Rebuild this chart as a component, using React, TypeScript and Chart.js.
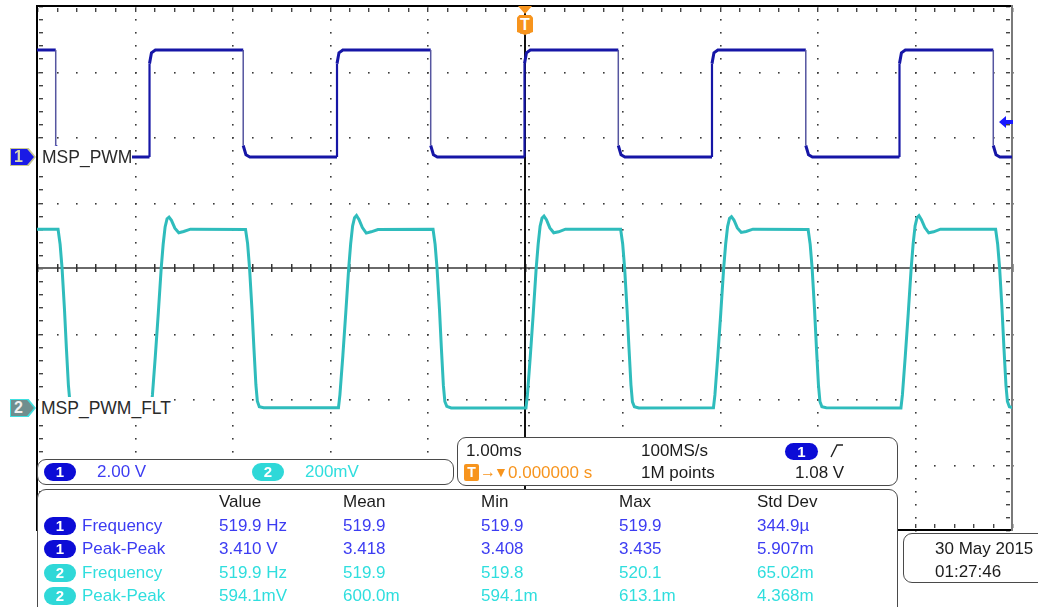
import React, { useEffect, useRef } from 'react';
import { Chart, registerables } from 'chart.js';
Chart.register(...registerables);

// ---- time base: 1.00 ms/div, 10 divisions, trigger at 0 ----
const timeRange = [-5, 5]; // ms
// ---- vertical: 8 divisions; ch1 2.00 V/div, ch2 200 mV/div ----
const ch1Range = [-11.39, 4.61]; // V
const ch2Range = [-0.3725, 1.2275]; // V
const gratRange = [-4, 4]; // divisions

// Channel 1 (MSP_PWM) trace, time in ms, volts
const ch1Time = [
  -5,
  -4.808, -4.808, -4.78, -4.74,
  -3.846, -3.846, -3.826, -3.786,
  -2.885, -2.885, -2.857, -2.817,
  -1.923, -1.923, -1.903, -1.863,
  -0.962, -0.962, -0.934, -0.894,
  0, 0, 0.02, 0.06,
  0.962, 0.962, 0.99, 1.03,
  1.923, 1.923, 1.943, 1.983,
  2.885, 2.885, 2.913, 2.953,
  3.846, 3.846, 3.866, 3.906,
  4.808, 4.808, 4.836, 4.876,
  5,
];
const ch1Volt = [
  3.267,
  3.267, 0.35, 0.07, 0,
  0, 2.85, 3.18, 3.267,
  3.267, 0.35, 0.07, 0,
  0, 2.85, 3.18, 3.267,
  3.267, 0.35, 0.07, 0,
  0, 2.85, 3.18, 3.267,
  3.267, 0.35, 0.07, 0,
  0, 2.85, 3.18, 3.267,
  3.267, 0.35, 0.07, 0,
  0, 2.85, 3.18, 3.267,
  3.267, 0.35, 0.07, 0,
  0,
];

// Channel 2 (MSP_PWM_FLT) trace, time in ms, volts
const ch2Time = [
  -5,
  -4.784, -4.763, -4.743, -4.718, -4.698, -4.678, -4.663, -4.643, -4.598,
  -3.831, -3.816, -3.786, -3.756, -3.726, -3.706, -3.686, -3.666, -3.646, -3.621, -3.586, -3.546, -3.496, -3.426,
  -2.861, -2.840, -2.820, -2.795, -2.775, -2.755, -2.740, -2.720, -2.675,
  -1.908, -1.893, -1.863, -1.833, -1.803, -1.783, -1.763, -1.743, -1.723, -1.698, -1.663, -1.623, -1.573, -1.503,
  -0.938, -0.917, -0.897, -0.872, -0.852, -0.832, -0.817, -0.797, -0.752,
  0.015, 0.030, 0.060, 0.090, 0.120, 0.140, 0.160, 0.180, 0.200, 0.225, 0.260, 0.300, 0.350, 0.420,
  0.986, 1.007, 1.027, 1.052, 1.072, 1.092, 1.107, 1.127, 1.172,
  1.938, 1.953, 1.983, 2.013, 2.043, 2.063, 2.083, 2.103, 2.123, 2.148, 2.183, 2.223, 2.273, 2.343,
  2.909, 2.930, 2.950, 2.975, 2.995, 3.015, 3.030, 3.050, 3.095,
  3.861, 3.876, 3.906, 3.936, 3.966, 3.986, 4.006, 4.026, 4.046, 4.071, 4.106, 4.146, 4.196, 4.266,
  4.832, 4.853, 4.873, 4.898, 4.918, 4.938, 4.953, 4.973, 5.018,
];
const ch2Volt = [
  0.546,
  0.546, 0.500, 0.427, 0.300, 0.180, 0.070, 0.020, 0.004, 0.000,
  0.000, 0.040, 0.160, 0.290, 0.427, 0.500, 0.553, 0.578, 0.583, 0.573, 0.549, 0.535, 0.539, 0.546,
  0.545, 0.502, 0.427, 0.300, 0.182, 0.071, 0.021, 0.004, 0.001,
  0.001, 0.041, 0.160, 0.291, 0.427, 0.501, 0.556, 0.581, 0.588, 0.576, 0.551, 0.534, 0.538, 0.545,
  0.546, 0.500, 0.426, 0.301, 0.180, 0.069, 0.020, 0.005, 0.000,
  0.000, 0.040, 0.160, 0.290, 0.427, 0.500, 0.555, 0.580, 0.586, 0.575, 0.550, 0.535, 0.538, 0.546,
  0.546, 0.501, 0.427, 0.300, 0.181, 0.070, 0.019, 0.004, 0.000,
  0.001, 0.040, 0.159, 0.290, 0.428, 0.500, 0.554, 0.579, 0.584, 0.574, 0.550, 0.536, 0.539, 0.546,
  0.545, 0.500, 0.427, 0.299, 0.180, 0.070, 0.020, 0.004, 0.001,
  0.000, 0.040, 0.161, 0.290, 0.427, 0.501, 0.556, 0.581, 0.587, 0.575, 0.551, 0.535, 0.538, 0.546,
  0.546, 0.500, 0.427, 0.300, 0.180, 0.070, 0.020, 0.004, 0.000,
];

// ---- readouts ----
const ch1Scale = '2.00 V';
const ch2Scale = '200mV';
const timeDiv = '1.00ms';
const sampleRate = '100MS/s';
const triggerDelay = '0.000000 s';
const memDepth = '1M points';
const trigLevel = '1.08 V';
const measureHeaders = ['Value', 'Mean', 'Min', 'Max', 'Std Dev'];
const measureNames = ['Frequency', 'Peak-Peak', 'Frequency', 'Peak-Peak'];
const measureChannels = [1, 1, 2, 2];
const measureValues = [
  ['519.9 Hz', '519.9', '519.9', '519.9', '344.9\u00b5'],
  ['3.410 V', '3.418', '3.408', '3.435', '5.907m'],
  ['519.9 Hz', '519.9', '519.8', '520.1', '65.02m'],
  ['594.1mV', '600.0m', '594.1m', '613.1m', '4.368m'],
];
const dateText = '30 May 2015';
const timeText = '01:27:46';
const ch1Label = 'MSP_PWM';
const ch2Label = 'MSP_PWM_FLT';

const FONT = "'Liberation Sans', Arial, sans-serif";
const BLUE_TXT = '#3c3cf2';
const BLUE_PILL = '#0c0cd6';
const CYAN_TXT = '#2fdede';
const CYAN_PILL = '#2fd8d8';
const ORANGE = '#f7941d';

const graticule = {
  id: 'graticule',
  beforeDatasetsDraw(chart: any) {
    const { ctx, chartArea: a, scales } = chart;
    const xs = scales.x;
    const ys = scales.yg;
    const xMinor: number[] = [];
    for (let i = -25; i <= 25; i++) xMinor.push(i / 5);
    const yMinor: number[] = [];
    for (let i = -20; i <= 20; i++) yMinor.push(i / 5);
    const px = (v: number) => Math.round(xs.getPixelForValue(v));
    const py = (v: number) => Math.round(ys.getPixelForValue(v));
    ctx.save();
    ctx.fillStyle = '#3a3a3a';
    // dotted major lines
    for (let k = -4; k <= 4; k++) {
      const x = px(k);
      if (k === 0) continue;
      for (const yv of yMinor) ctx.fillRect(x, py(yv), 1.6, 1.6);
    }
    for (let j = -3; j <= 3; j++) {
      if (j === 0) continue;
      const y = py(j);
      for (const xv of xMinor) ctx.fillRect(px(xv), y, 1.6, 1.6);
    }
    // border ticks
    ctx.fillStyle = '#444';
    for (const yv of yMinor) {
      const y = py(yv);
      ctx.fillRect(a.left + 2, y, 4, 1.4);
      ctx.fillRect(a.right - 6, y, 4, 1.4);
    }
    for (const xv of xMinor) {
      const x = px(xv);
      ctx.fillRect(x, a.top + 2, 1.4, 4);
      ctx.fillRect(x, a.bottom - 6, 1.4, 4);
    }
    // center horizontal axis
    const cy = py(0);
    ctx.fillStyle = '#6a6a6a';
    ctx.fillRect(a.left, cy - 1, a.right - a.left, 2);
    ctx.fillStyle = '#333';
    for (const xv of xMinor) ctx.fillRect(px(xv), cy - 4, 1.5, 8);
    // center vertical axis
    const cx = px(0);
    ctx.fillStyle = '#111';
    ctx.fillRect(cx - 1, a.top, 2, a.bottom - a.top);
    ctx.fillStyle = '#444';
    for (const yv of yMinor) {
      ctx.fillRect(cx - 5, py(yv), 2, 1.4);
      ctx.fillRect(cx + 3, py(yv), 2, 1.4);
    }
    // frame
    ctx.fillStyle = '#000';
    ctx.fillRect(a.left - 1, a.top - 1, 2, a.bottom - a.top + 2);
    ctx.fillRect(a.left - 1, a.top - 1, a.right - a.left + 2, 2);
    ctx.fillRect(a.left - 1, a.bottom - 1, a.right - a.left + 2, 2);
    ctx.fillStyle = '#7a7a7a';
    ctx.fillRect(a.right - 1, a.top - 1, 2, a.bottom - a.top + 2);
    ctx.restore();
  },
};

function Txt({ x, y, c = '#1c1c1c', s = 17, children, style }: any) {
  return (
    <div
      style={{
        position: 'absolute',
        left: x,
        top: y - 11,
        height: 22,
        lineHeight: '22px',
        fontSize: s,
        color: c,
        whiteSpace: 'nowrap',
        ...style,
      }}
    >
      {children}
    </div>
  );
}

function Pill({ x, y, bg, label, w = 32, h = 18 }: any) {
  return (
    <div
      style={{
        position: 'absolute',
        left: x,
        top: y - h / 2,
        width: w,
        height: h,
        borderRadius: h / 2,
        background: bg,
        color: '#fff',
        fontWeight: 'bold',
        fontSize: 15,
        lineHeight: h + 'px',
        textAlign: 'center',
      }}
    >
      {label}
    </div>
  );
}

function Box({ x, y, w, h }: any) {
  return (
    <div
      style={{
        position: 'absolute',
        left: x,
        top: y,
        width: w,
        height: h,
        boxSizing: 'border-box',
        border: '1.5px solid #4a4a4a',
        borderRadius: 9,
        background: '#fff',
      }}
    />
  );
}

function Marker({ y, bg, border, label, fg }: any) {
  return (
    <div
      style={{
        position: 'absolute',
        left: 10,
        top: y - 9,
        width: 26,
        height: 18,
        background: border,
        clipPath: 'polygon(0 0, 72% 0, 100% 50%, 72% 100%, 0 100%)',
      }}
    >
      <div
        style={{
          position: 'absolute',
          left: 1,
          top: 1,
          width: 23,
          height: 16,
          background: bg,
          clipPath: 'polygon(0 0, 70% 0, 100% 50%, 70% 100%, 0 100%)',
          color: fg,
          fontWeight: 'bold',
          fontSize: 16,
          lineHeight: '16px',
          paddingLeft: 3,
          boxSizing: 'border-box',
        }}
      >
        {label}
      </div>
    </div>
  );
}

export default function App() {
  const ref = useRef<HTMLCanvasElement | null>(null);
  useEffect(() => {
    if (!ref.current) return;
    const vert = (c: any) => c.p0.parsed.x === c.p1.parsed.x;
    const falling = (c: any) => vert(c) && c.p1.parsed.y < c.p0.parsed.y;
    const ch2Data = ch2Time.map((t, i) => ({ x: t, y: ch2Volt[i] }));
    const chart = new Chart(ref.current, {
      type: 'line',
      data: {
        datasets: [
          {
            label: ch1Label,
            data: ch1Time.map((t, i) => ({ x: t, y: ch1Volt[i] })),
            yAxisID: 'y1',
            borderColor: '#1616a6',
            borderWidth: 3,
            pointRadius: 0,
            segment: {
              borderWidth: (c: any) => (falling(c) ? 1.5 : vert(c) ? 2.2 : 3),
              borderColor: (c: any) => (falling(c) ? '#5656a0' : '#1616a6'),
            },
          } as any,
          {
            label: ch2Label,
            data: ch2Data,
            yAxisID: 'y2',
            borderColor: '#2fbcbc',
            borderWidth: 3,
            pointRadius: 0,
          },
          {
            label: ch2Label + ' core',
            data: ch2Data,
            yAxisID: 'y2',
            borderColor: '#137272',
            borderWidth: 1,
            pointRadius: 0,
          },
        ],
      },
      options: {
        animation: false,
        responsive: false,
        devicePixelRatio: 1,
        layout: { padding: { left: 37, right: 26, top: 6, bottom: 77 } },
        plugins: { legend: { display: false }, tooltip: { enabled: false } },
        elements: { line: { tension: 0 }, point: { radius: 0 } },
        scales: {
          x: { type: 'linear', min: timeRange[0], max: timeRange[1], display: false },
          y1: { type: 'linear', min: ch1Range[0], max: ch1Range[1], display: false },
          y2: { type: 'linear', min: ch2Range[0], max: ch2Range[1], display: false },
          yg: { type: 'linear', min: gratRange[0], max: gratRange[1], display: false },
        },
      } as any,
      plugins: [graticule],
    });
    return () => chart.destroy();
  }, []);

  const cols = [219, 343, 481, 619, 757];
  const rowY = [526, 549, 573, 596];

  return (
    <div
      style={{
        position: 'fixed',
        left: 0,
        top: 0,
        width: 1038,
        height: 607,
        background: '#fff',
        overflow: 'hidden',
        fontFamily: FONT,
      }}
    >
      <canvas ref={ref} width={1038} height={607} style={{ position: 'absolute', left: 0, top: 0, width: 1038, height: 607 }} />

      {/* trace labels */}
      <div style={{ position: 'absolute', left: 39, top: 146, width: 93, height: 22, background: '#fff' }} />
      <Txt x={42} y={157} s={17.5} c="#2a2a2a">{ch1Label}</Txt>
      <div style={{ position: 'absolute', left: 39, top: 397, width: 135, height: 22, background: '#fff' }} />
      <Txt x={41} y={408} s={17.5} c="#2a2a2a">{ch2Label}</Txt>

      {/* channel ground markers */}
      <Marker y={157} bg="#1a1ae6" border="#c8c890" label="1" fg="#d8d8b0" />
      <Marker y={408} bg="#6f8e8e" border="#40e0e0" label="2" fg="#f0f0f0" />

      {/* trigger marker */}
      <div style={{ position: 'absolute', left: 518, top: 6, width: 0, height: 0, borderLeft: '7px solid transparent', borderRight: '7px solid transparent', borderTop: '8px solid ' + ORANGE }} />
      <div
        style={{
          position: 'absolute',
          left: 517,
          top: 15,
          width: 16,
          height: 20,
          background: ORANGE,
          clipPath: 'polygon(15% 0, 85% 0, 100% 12%, 100% 85%, 50% 100%, 0 85%, 0 12%)',
          color: '#fff',
          fontWeight: 'bold',
          fontSize: 16,
          lineHeight: '19px',
          textAlign: 'center',
        }}
      >
        T
      </div>

      {/* trigger level arrow */}
      <svg style={{ position: 'absolute', left: 998, top: 115 }} width={16} height={14}>
        <path d="M1 7 L8 1 L8 5 L15 5 L15 9 L8 9 L8 13 Z" fill="#1a1aff" />
      </svg>

      {/* channel scale box */}
      <Box x={37} y={459} w={417} h={26} />
      <Pill x={44} y={472} bg={BLUE_PILL} label="1" />
      <Txt x={97} y={472} c={BLUE_TXT}>{ch1Scale}</Txt>
      <Pill x={252} y={472} bg={CYAN_PILL} label="2" />
      <Txt x={305} y={472} c={CYAN_TXT}>{ch2Scale}</Txt>

      {/* timebase box */}
      <Box x={457} y={437} w={441} h={49} />
      <Txt x={466} y={451}>{timeDiv}</Txt>
      <Txt x={641} y={451}>{sampleRate}</Txt>
      <Pill x={785} y={451} bg={BLUE_PILL} label="1" w={33} h={17} />
      <svg style={{ position: 'absolute', left: 829, top: 443 }} width={16} height={16}>
        <path d="M2 14 L8 2 L14 2" stroke="#222" strokeWidth={1.4} fill="none" />
      </svg>
      <div style={{ position: 'absolute', left: 464, top: 464, width: 15, height: 17, background: ORANGE, borderRadius: 2, color: '#fff', fontWeight: 'bold', fontSize: 14, lineHeight: '17px', textAlign: 'center' }}>T</div>
      <Txt x={480} y={472} c={ORANGE} s={16}>{'\u2192'}</Txt>
      <Txt x={494} y={472} c={ORANGE} s={14}>{'\u25bc'}</Txt>
      <Txt x={508} y={473} c={ORANGE}>{triggerDelay}</Txt>
      <Txt x={641} y={473}>{memDepth}</Txt>
      <Txt x={795} y={473}>{trigLevel}</Txt>

      {/* measurement box */}
      <Box x={37} y={489} w={861} h={140} />
      {measureHeaders.map((h, i) => (
        <Txt key={'h' + i} x={cols[i]} y={502}>{h}</Txt>
      ))}
      {measureNames.map((n, r) => {
        const isBlue = measureChannels[r] === 1;
        const c = isBlue ? BLUE_TXT : CYAN_TXT;
        return (
          <React.Fragment key={'r' + r}>
            <Pill x={44} y={rowY[r]} bg={isBlue ? BLUE_PILL : CYAN_PILL} label={String(measureChannels[r])} />
            <Txt x={82} y={rowY[r]} c={c}>{n}</Txt>
            {measureValues[r].map((v, i) => (
              <Txt key={i} x={cols[i]} y={rowY[r]} c={c}>{v}</Txt>
            ))}
          </React.Fragment>
        );
      })}

      {/* date box */}
      <Box x={903} y={533} w={160} h={50} />
      <Txt x={935} y={549}>{dateText}</Txt>
      <Txt x={935} y={572}>{timeText}</Txt>
    </div>
  );
}
